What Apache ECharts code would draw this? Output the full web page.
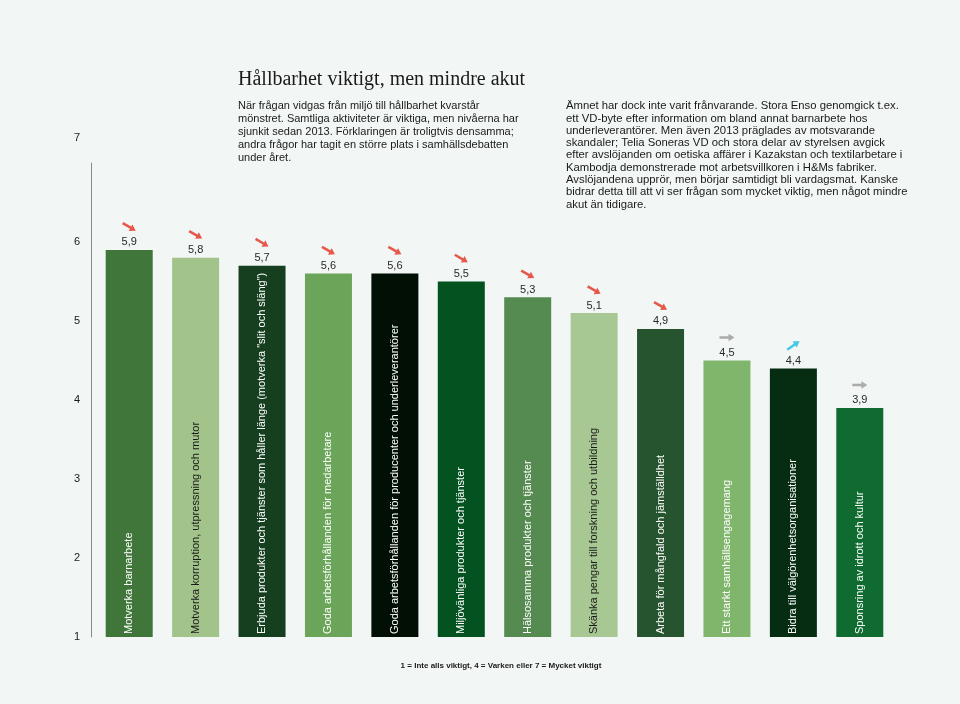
<!DOCTYPE html>
<html>
<head>
<meta charset="utf-8">
<script src="https://cdn.jsdelivr.net/npm/echarts@6/dist/echarts.min.js"></script>
<style>
html,body{margin:0;padding:0;background:#f2f6f5;}
#c{width:960px;height:704px;}
</style>
</head>
<body>
<div id="c"></div>
<script>
const categories = [
  'Motverka barnarbete',
  'Motverka korruption, utpressning och mutor',
  'Erbjuda produkter och tjänster som håller länge (motverka "slit och släng")',
  'Goda arbetsförhållanden för medarbetare',
  'Goda arbetsförhållanden för producenter och underleverantörer',
  'Miljövänliga produkter och tjänster',
  'Hälsosamma produkter och tjänster',
  'Skänka pengar till forskning och utbildning',
  'Arbeta för mångfald och jämställdhet',
  'Ett starkt samhällsengagemang',
  'Bidra till välgörenhetsorganisationer',
  'Sponsring av idrott och kultur'
];
const values = [5.9, 5.8, 5.7, 5.6, 5.6, 5.5, 5.3, 5.1, 4.9, 4.5, 4.4, 3.9];
const trends = ['down','down','down','down','down','down','down','down','down','flat','up','flat'];
const barColors = ['#41763b','#a2c38a','#163f20','#6ba55a','#020f05','#03521f','#558a50','#a8c893','#26542f','#80b66c','#062c12','#0f6b30'];
const labelColors = ['#fff','#1a1a1a','#fff','#fff','#fff','#fff','#fff','#1a1a1a','#fff','#fff','#fff','#fff'];
const yTicks = [1, 2, 3, 4, 5, 6, 7];

const titleText = 'Hållbarhet viktigt, men mindre akut';
const introText = [
  'När frågan vidgas från miljö till hållbarhet kvarstår',
  'mönstret. Samtliga aktiviteter är viktiga, men nivåerna har',
  'sjunkit sedan 2013. Förklaringen är troligtvis densamma;',
  'andra frågor har tagit en större plats i samhällsdebatten',
  'under året.'
];
const sideText = [
  'Ämnet har dock inte varit frånvarande. Stora Enso genomgick t.ex.',
  'ett VD-byte efter information om bland annat barnarbete hos',
  'underleverantörer. Men även 2013 präglades av motsvarande',
  'skandaler; Telia Soneras VD och stora delar av styrelsen avgick',
  'efter avslöjanden om oetiska affärer i Kazakstan och textilarbetare i',
  'Kambodja demonstrerade mot arbetsvillkoren i H&Ms fabriker.',
  'Avslöjandena upprör, men börjar samtidigt bli vardagsmat. Kanske',
  'bidrar detta till att vi ser frågan som mycket viktig, men något mindre',
  'akut än tidigare.'
];
const footText = '1 = Inte alls viktigt, 4 = Varken eller 7 = Mycket viktigt';

const trendStyle = {
  down: {rot: -30, color: '#e2321f'},
  flat: {rot: 0, color: '#999999'},
  up: {rot: 35, color: '#1cbde0'}
};
const arrowPath = 'path://M0,3.3 L8.5,3.3 L8.5,0 L14,5 L8.5,10 L8.5,6.7 L0,6.7 Z';

const chart = echarts.init(document.getElementById('c'), null, {renderer: 'canvas'});
chart.setOption({
  backgroundColor: '#f2f6f5',
  animation: false,
  title: [
    {text: titleText, left: 238, top: 70, padding: 0,
     textStyle: {fontFamily: 'Liberation Serif', fontSize: 20, fontWeight: 'normal', color: '#1a1a1a'}},
    {text: introText.join('\n'), left: 238, top: 100, padding: 0,
     textStyle: {fontFamily: 'Liberation Sans', fontSize: 11, fontWeight: 'normal', color: '#1a1a1a', lineHeight: 12.8}},
    {text: sideText.join('\n'), left: 566, top: 100, padding: 0,
     textStyle: {fontFamily: 'Liberation Sans', fontSize: 11.3, fontWeight: 'normal', color: '#1a1a1a', lineHeight: 12.3}},
    {text: footText, left: 501, top: 662, textAlign: 'center', padding: 0,
     textStyle: {fontFamily: 'Liberation Sans', fontSize: 8, fontWeight: 'bold', color: '#1a1a1a'}}
  ],
  grid: {left: 96, right: 67, top: 163, bottom: 67},
  xAxis: {
    type: 'category',
    data: categories,
    axisLine: {show: false},
    axisTick: {show: false},
    axisLabel: {
      inside: true,
      rotate: 90,
      interval: 0,
      margin: 3,
      fontFamily: 'Liberation Sans',
      fontSize: 11,
      color: function (v, i) { return labelColors[i]; }
    },
    z: 10
  },
  yAxis: {
    type: 'value',
    min: 1, max: 7, interval: 1,
    offset: 5,
    splitLine: {show: false},
    axisTick: {show: false},
    axisLine: {show: true, lineStyle: {color: '#8a8a8a', width: 1}},
    axisLabel: {
      margin: 11,
      fontFamily: 'Liberation Sans',
      fontSize: 11,
      color: '#1a1a1a',
      formatter: function (v) { return v === 7 ? '{hi|' + v + '}' : String(v); },
      rich: {hi: {fontFamily: 'Liberation Sans', fontSize: 11, color: '#1a1a1a', padding: [0, 0, 50, 0]}}
    },
    data: yTicks
  },
  series: [
    {
      type: 'bar',
      barWidth: 47,
      data: values.map((v, i) => ({value: v, itemStyle: {color: barColors[i]}})),
      label: {
        show: true,
        position: 'top',
        distance: 2,
        fontFamily: 'Liberation Sans',
        fontSize: 11,
        color: '#2a2a2a',
        formatter: p => String(p.value).replace('.', ',')
      }
    },
    {
      type: 'scatter',
      data: values.map((v, i) => ({
        value: v,
        symbolRotate: trendStyle[trends[i]].rot,
        itemStyle: {color: trendStyle[trends[i]].color}
      })),
      symbol: arrowPath,
      symbolSize: [15, 10.5],
      symbolKeepAspect: true,
      symbolOffset: [0, -23],
      silent: true,
      z: 5
    }
  ]
});
</script>
</body>
</html>
